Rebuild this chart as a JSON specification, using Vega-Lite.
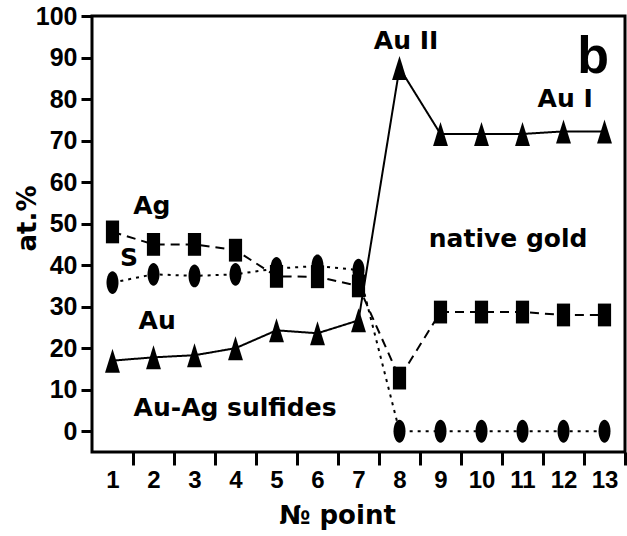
{
  "$schema": "https://vega.github.io/schema/vega-lite/v6.json",
  "width": 533,
  "height": 436,
  "autosize": "none",
  "padding": {"left": 92, "top": 16, "right": 2, "bottom": 84},
  "background": "white",
  "config": {"view": {"stroke": "black", "strokeWidth": 3}},
  "data": {"values": [
    {"point": 1, "el": "Au", "v": 17}, {"point": 2, "el": "Au", "v": 17.8}, {"point": 3, "el": "Au", "v": 18.3},
    {"point": 4, "el": "Au", "v": 20}, {"point": 5, "el": "Au", "v": 24.3}, {"point": 6, "el": "Au", "v": 23.6},
    {"point": 7, "el": "Au", "v": 26.7}, {"point": 8, "el": "Au", "v": 87.5}, {"point": 9, "el": "Au", "v": 71.6},
    {"point": 10, "el": "Au", "v": 71.6}, {"point": 11, "el": "Au", "v": 71.6}, {"point": 12, "el": "Au", "v": 72.2},
    {"point": 13, "el": "Au", "v": 72.2},
    {"point": 1, "el": "Ag", "v": 48}, {"point": 2, "el": "Ag", "v": 45}, {"point": 3, "el": "Ag", "v": 45},
    {"point": 4, "el": "Ag", "v": 43.6}, {"point": 5, "el": "Ag", "v": 37.3}, {"point": 6, "el": "Ag", "v": 37.2},
    {"point": 7, "el": "Ag", "v": 35}, {"point": 8, "el": "Ag", "v": 12.8}, {"point": 9, "el": "Ag", "v": 28.7},
    {"point": 10, "el": "Ag", "v": 28.7}, {"point": 11, "el": "Ag", "v": 28.7}, {"point": 12, "el": "Ag", "v": 28},
    {"point": 13, "el": "Ag", "v": 28},
    {"point": 1, "el": "S", "v": 35.8}, {"point": 2, "el": "S", "v": 37.8}, {"point": 3, "el": "S", "v": 37.4},
    {"point": 4, "el": "S", "v": 37.8}, {"point": 5, "el": "S", "v": 39.2}, {"point": 6, "el": "S", "v": 39.8},
    {"point": 7, "el": "S", "v": 38.8}, {"point": 8, "el": "S", "v": 0}, {"point": 9, "el": "S", "v": 0},
    {"point": 10, "el": "S", "v": 0}, {"point": 11, "el": "S", "v": 0}, {"point": 12, "el": "S", "v": 0},
    {"point": 13, "el": "S", "v": 0}
  ]},
  "layer": [
    {
      "mark": {"type": "line", "color": "black", "strokeWidth": 2, "strokeCap": "butt"},
      "encoding": {
        "x": {
          "field": "point", "type": "quantitative",
          "scale": {"domain": [0.5, 13.5], "nice": false, "zero": false},
          "axis": {
            "values": [1, 2, 3, 4, 5, 6, 7, 8, 9, 10, 11, 12, 13],
            "tickOffset": 20.5, "labelOffset": -20.5,
            "tickSize": 13, "tickWidth": 3, "tickColor": "black",
            "domain": false, "grid": false,
            "labelFont": "Liberation Sans", "labelFontWeight": "bold", "labelFontSize": 24,
            "labelColor": "black", "labelPadding": 3, "labelFlush": false, "labelOverlap": false,
            "title": "№ point", "titleFont": "DejaVu Sans", "titleFontSize": 26, "titleFontWeight": "bold",
            "titleColor": "black", "titleX": 245, "titleY": 71, "titleBaseline": "alphabetic", "titleAlign": "center"
          }
        },
        "y": {
          "field": "v", "type": "quantitative",
          "scale": {"domain": [-5, 100], "nice": false, "zero": false},
          "axis": {
            "values": [0, 10, 20, 30, 40, 50, 60, 70, 80, 90, 100],
            "tickSize": 11, "tickWidth": 3, "tickColor": "black",
            "domain": false, "grid": false,
            "labelFont": "Liberation Sans", "labelFontWeight": "bold", "labelFontSize": 25,
            "labelColor": "black", "labelPadding": 4, "labelFlush": false, "labelOverlap": false,
            "title": "at.%", "titleFont": "DejaVu Sans", "titleFontSize": 26, "titleFontWeight": "bold",
            "titleColor": "black", "titleAngle": 270, "titleX": -57, "titleY": 202,
            "titleBaseline": "alphabetic", "titleAlign": "center"
          }
        },
        "detail": {"field": "el"},
        "strokeDash": {
          "field": "el", "type": "nominal", "legend": null,
          "scale": {"domain": ["Au", "Ag", "S"], "range": [[1, 0], [9, 6], [3, 5]]}
        }
      }
    },
    {
      "mark": {"type": "point", "filled": true, "color": "black", "opacity": 1, "size": 576},
      "encoding": {
        "x": {"field": "point", "type": "quantitative"},
        "y": {"field": "v", "type": "quantitative"},
        "shape": {
          "field": "el", "type": "nominal", "legend": null,
          "scale": {"domain": ["Au", "Ag", "S"], "range": [
            "M0,-1L0.62,1L-0.62,1Z",
            "M-0.55,-0.95L0.55,-0.95L0.55,0.95L-0.55,0.95Z",
            "M0,-0.95A0.5,0.95,0,1,1,0,0.95A0.5,0.95,0,1,1,0,-0.95Z"
          ]}
        }
      }
    },
    {
      "data": {"values": [
        {"x": 1.96, "y": 54.2, "label": "Ag"},
        {"x": 1.40, "y": 41.8, "label": "S"},
        {"x": 2.09, "y": 26.5, "label": "Au"},
        {"x": 3.99, "y": 5.7, "label": "Au-Ag sulfides"},
        {"x": 10.65, "y": 46.2, "label": "native gold"},
        {"x": 8.16, "y": 93.9, "label": "Au II"},
        {"x": 12.04, "y": 80.1, "label": "Au I"}
      ]},
      "mark": {"type": "text", "font": "DejaVu Sans", "fontWeight": "bold", "fontSize": 25, "color": "black", "align": "center", "baseline": "middle"},
      "encoding": {
        "x": {"field": "x", "type": "quantitative"},
        "y": {"field": "y", "type": "quantitative"},
        "text": {"field": "label"}
      }
    },
    {
      "data": {"values": [{"x": 12.72, "y": 86.2, "label": "b"}]},
      "mark": {"type": "text", "font": "Liberation Sans", "fontWeight": "bold", "fontSize": 52, "color": "black", "align": "center", "baseline": "alphabetic"},
      "encoding": {
        "x": {"field": "x", "type": "quantitative"},
        "y": {"field": "y", "type": "quantitative"},
        "text": {"field": "label"}
      }
    }
  ]
}
